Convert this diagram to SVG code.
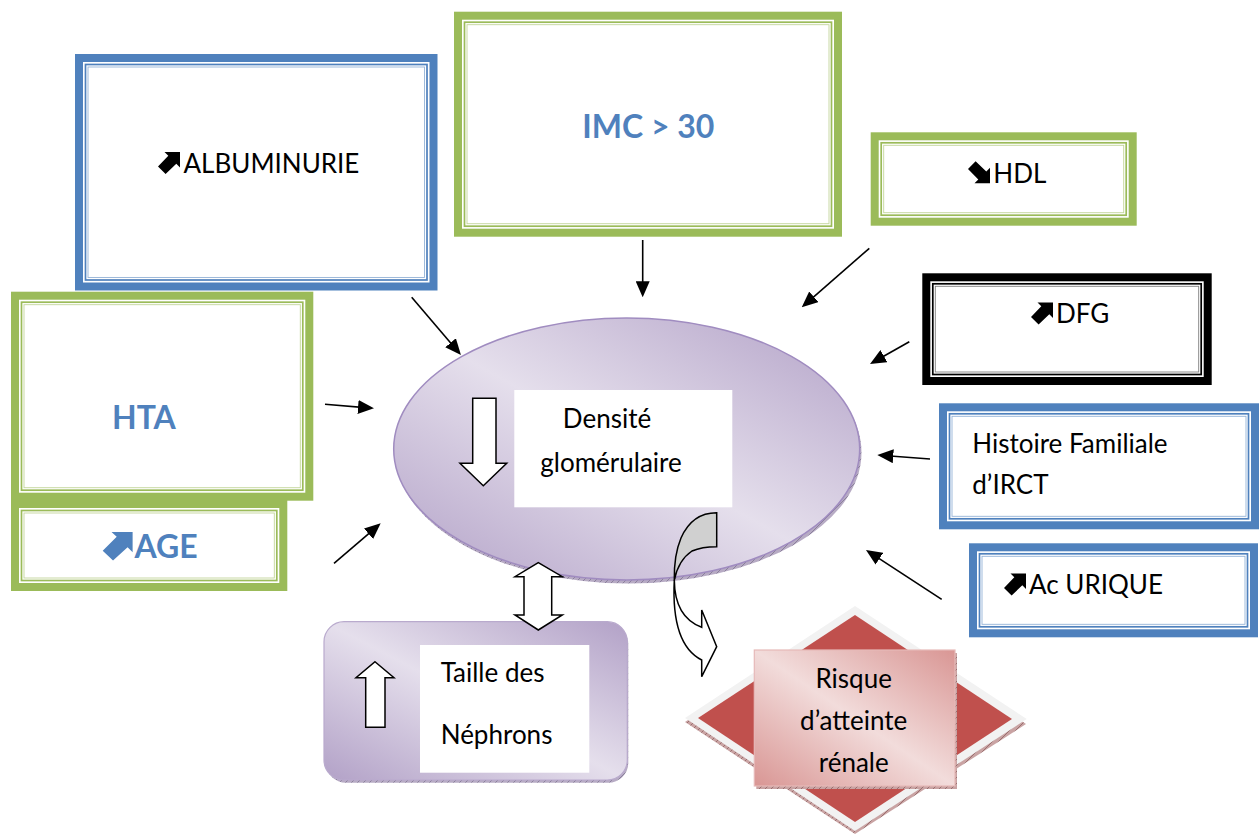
<svg xmlns="http://www.w3.org/2000/svg" width="1260" height="834" viewBox="0 0 1260 834">
  <defs>
    <style>
      .lbl { font-family: Lato, "Liberation Sans", sans-serif; font-size: 26px; fill: #000; }
      .big { font-family: Lato, "Liberation Sans", sans-serif; font-size: 32px; font-weight: bold; fill: #4f81bd; }
      .band-blue { fill: #fff; stroke: #4f81bd; stroke-width: 8; }
      .band-green { fill: #fff; stroke: #9bbb59; stroke-width: 8; }
      .band-black { fill: #fff; stroke: #000; stroke-width: 8; }
      .in-blue { fill: none; stroke: #4f81bd; stroke-width: 1.7; }
      .in-blue2 { fill: none; stroke: #95b3d7; stroke-width: 0.9; }
      .in-green { fill: none; stroke: #9bbb59; stroke-width: 1.7; }
      .in-green2 { fill: none; stroke: #c3d69b; stroke-width: 0.9; }
      .in-black { fill: none; stroke: #000; stroke-width: 1.7; }
      .in-black2 { fill: none; stroke: #808080; stroke-width: 0.9; }
      .conn { stroke: #000; stroke-width: 1.6; fill: none; marker-end: url(#head); }
      .block { fill: #fff; stroke: #000; stroke-width: 1.5; stroke-linejoin: miter; }
    </style>
    <marker id="head" viewBox="0 0 16 14" refX="13" refY="7" markerWidth="16" markerHeight="14" markerUnits="userSpaceOnUse" orient="auto">
      <path d="M0,0 L16,7 L0,14 Z" fill="#000"/>
    </marker>
    <linearGradient id="lilac" x1="1" y1="0" x2="0" y2="1">
      <stop offset="0" stop-color="#b2a1c7"/>
      <stop offset="0.5" stop-color="#e5dfec"/>
      <stop offset="1" stop-color="#b2a1c7"/>
    </linearGradient>
    <linearGradient id="rose" x1="1" y1="0" x2="0" y2="1">
      <stop offset="0" stop-color="#d99694"/>
      <stop offset="0.5" stop-color="#f2dcdb"/>
      <stop offset="1" stop-color="#d99694"/>
    </linearGradient>
    <pattern id="hatchLilac" width="6" height="6" patternUnits="userSpaceOnUse">
      <rect width="6" height="6" fill="#b7abc4"/>
      <path d="M0,6 L6,0" stroke="#7f7390" stroke-width="0.8"/>
    </pattern>
    <pattern id="hatchRose" width="6" height="6" patternUnits="userSpaceOnUse">
      <rect width="6" height="6" fill="#c9a3a3"/>
      <path d="M0,6 L6,0" stroke="#8e6262" stroke-width="0.8"/>
    </pattern>
    <!-- bold diagonal arrow symbol, pointing north-east, 22x22 box -->
    <path id="ne" d="M22,0 L22,15.5 L18.3,11.8 L7.6,22 L0,14.4 L10.3,3.7 L6.5,0 Z"/>
  </defs>

  <rect width="1260" height="834" fill="#fff"/>

  <!-- ALBUMINURIE -->
  <g id="albuminurie">
    <rect class="band-blue" x="79" y="58" width="354.5" height="228.5"/>
    <rect class="in-blue" x="85.5" y="64.5" width="341.5" height="215.5"/>
    <rect class="in-blue2" x="88" y="67" width="336.5" height="210.5"/>
    <use href="#ne" x="158" y="152" fill="#000"/>
    <text class="lbl" x="183.5" y="173.3">ALBUMINURIE</text>
  </g>

  <!-- IMC > 30 -->
  <g id="imc">
    <rect class="band-green" x="458" y="15.7" width="380" height="217"/>
    <rect class="in-green" x="464.5" y="22.2" width="367" height="204"/>
    <rect class="in-green2" x="467" y="24.7" width="362" height="199"/>
    <text class="big" x="582.3" y="138.3">IMC &gt; 30</text>
  </g>

  <!-- HDL -->
  <g id="hdl">
    <rect class="band-green" x="874.7" y="136.3" width="258" height="85.4"/>
    <rect class="in-green" x="881.2" y="142.8" width="245" height="72.4"/>
    <rect class="in-green2" x="883.7" y="145.3" width="240" height="67.4"/>
    <use href="#ne" transform="translate(968,183.3) scale(1,-1)" fill="#000"/>
    <text class="lbl" x="993.3" y="182.7">HDL</text>
  </g>

  <!-- DFG -->
  <g id="dfg">
    <rect class="band-black" x="926.3" y="277.3" width="281.4" height="103.7"/>
    <rect class="in-black" x="932.8" y="283.8" width="268.4" height="90.7"/>
    <rect class="in-black2" x="935.3" y="286.3" width="263.4" height="85.7"/>
    <use href="#ne" x="1031" y="302.5" fill="#000"/>
    <text class="lbl" x="1056" y="323.3">DFG</text>
  </g>

  <!-- HTA -->
  <g id="hta">
    <rect class="band-green" x="15" y="295.7" width="294.3" height="201"/>
    <rect class="in-green" x="21.5" y="302.2" width="281.3" height="188"/>
    <rect class="in-green2" x="24" y="304.7" width="276.3" height="183"/>
    <text class="big" x="112" y="429">HTA</text>
  </g>

  <!-- AGE -->
  <g id="age">
    <rect class="band-green" x="15" y="504" width="268.3" height="83"/>
    <rect class="in-green" x="21.5" y="510.5" width="255.3" height="70"/>
    <rect class="in-green2" x="24" y="513" width="250.3" height="65"/>
    <use href="#ne" transform="translate(102.7,532) scale(1.36,1.3)" fill="#4f81bd"/>
    <text class="big" x="134.5" y="558.3">AGE</text>
  </g>

  <!-- Histoire Familiale d'IRCT -->
  <g id="histoire">
    <rect class="band-blue" x="943" y="407.3" width="312" height="118"/>
    <rect class="in-blue" x="949.5" y="413.8" width="299" height="105"/>
    <rect class="in-blue2" x="952" y="416.3" width="294" height="100"/>
    <text class="lbl" x="972.3" y="453.3">Histoire Familiale</text>
    <text class="lbl" x="972.3" y="494.3">d’IRCT</text>
  </g>

  <!-- Ac URIQUE -->
  <g id="ac-urique">
    <rect class="band-blue" x="973" y="547.3" width="281" height="86"/>
    <rect class="in-blue" x="979.5" y="553.8" width="268" height="73"/>
    <rect class="in-blue2" x="982" y="556.3" width="263" height="68"/>
    <use href="#ne" x="1004" y="573.5" fill="#000"/>
    <text class="lbl" x="1029" y="594">Ac URIQUE</text>
  </g>

  <!-- central ellipse: glomerular density -->
  <g id="densite">
    <ellipse cx="628.5" cy="452.5" rx="233" ry="131" fill="url(#hatchLilac)"/>
    <ellipse cx="626.7" cy="449" rx="233" ry="131" fill="url(#lilac)" stroke="#a08cc0" stroke-width="1.5"/>
    <rect x="514.3" y="390" width="218" height="117.3" fill="#fff"/>
    <path class="block" d="M472.7,398.3 H496 V463.3 H506.7 L483.3,485.7 L460,463.3 H472.7 Z"/>
    <text class="lbl" x="607" y="428" text-anchor="middle">Densité</text>
    <text class="lbl" x="611" y="471.7" text-anchor="middle">glomérulaire</text>
  </g>

  <!-- nephron size -->
  <g id="nephrons">
    <rect x="326" y="624.5" width="302.3" height="158.3" rx="20" fill="url(#hatchLilac)"/>
    <rect x="324" y="621.7" width="303.3" height="158.3" rx="20" fill="url(#lilac)" stroke="#b9aacd" stroke-width="1.2"/>
    <rect x="420" y="645" width="169.3" height="127.7" fill="#fff"/>
    <path class="block" d="M375,661.7 L394,677.7 H385 V727.3 H365.7 V677.7 H356 Z"/>
    <text class="lbl" x="440.7" y="681.7">Taille des</text>
    <text class="lbl" x="440.7" y="744.3">Néphrons</text>
  </g>

  <!-- renal risk -->
  <g id="risque">
    <path d="M855,610 L1026,724 L855,834 L685,722 Z" fill="url(#hatchRose)"/>
    <path d="M855,606 L1026.7,719 L855,831 L685,718 Z" fill="#f2f2f2"/>
    <path d="M855,615 L1012,719 L855,822 L698,718 Z" fill="#c0504d"/>
    <rect x="756.3" y="653" width="200.7" height="136" fill="url(#hatchRose)"/>
    <rect x="754.3" y="650" width="200.7" height="136" fill="url(#rose)" stroke="#e6b9b8" stroke-width="1.2"/>
    <text class="lbl" x="853.7" y="688.3" text-anchor="middle">Risque</text>
    <text class="lbl" x="853.7" y="730" text-anchor="middle">d’atteinte</text>
    <text class="lbl" x="853.7" y="771.7" text-anchor="middle">rénale</text>
  </g>

  <!-- connectors -->
  <g id="connectors">
    <line class="conn" x1="411.7" y1="297.3" x2="459" y2="352.7"/>
    <line class="conn" x1="642.7" y1="240" x2="642.7" y2="294.3"/>
    <line class="conn" x1="869.3" y1="248.3" x2="804" y2="305.3"/>
    <line class="conn" x1="909.3" y1="341.7" x2="872.6" y2="362.5"/>
    <line class="conn" x1="325" y1="404.3" x2="371" y2="408.1"/>
    <line class="conn" x1="334" y1="563.3" x2="378.4" y2="525.3"/>
    <line class="conn" x1="930" y1="459" x2="880.3" y2="455.2"/>
    <line class="conn" x1="941.7" y1="599.3" x2="868.5" y2="551.6"/>
    <!-- two-way link between density and nephron size -->
    <path class="block" d="M538.3,562.7 L562.3,576.7 H551.7 V615 H562.3 L538.3,630 L515,615 H524 V576.7 H515 Z"/>
    <!-- curved arrow towards renal risk -->
    <path d="M674.3,580 C674.5,602 682,620 701.7,627.3 L701.7,610 L716.7,646.7 L701.7,676.7 L701.7,660 C682,650 672,625 674.3,580 Z" fill="#fff" stroke="#000" stroke-width="1.5" stroke-linejoin="miter"/>
    <path d="M716.7,512.7 C700,512.7 688,522 681,538 C676,550 674,565 674.3,580 C677,567 683,557 692,551 C700,547.5 708,546.7 716.7,546.7 Z" fill="#d0d0d0" stroke="#000" stroke-width="1.5"/>
  </g>
</svg>
